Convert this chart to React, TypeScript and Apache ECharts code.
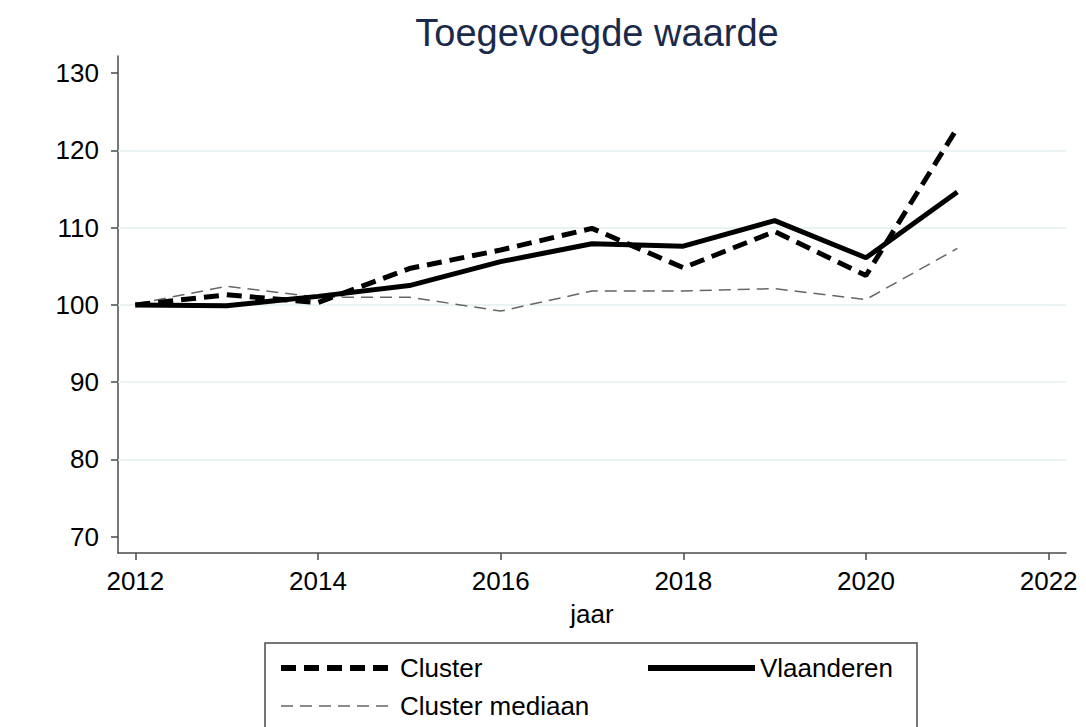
import React, { useEffect, useRef } from "react";
import * as echarts from "echarts";

const years = [2012, 2013, 2014, 2015, 2016, 2017, 2018, 2019, 2020, 2021];
const cluster = [100, 101.3, 100.3, 104.7, 107.1, 109.9, 104.8, 109.5, 103.8, 122.9];
const vlaanderen = [100, 99.9, 101.1, 102.5, 105.6, 107.9, 107.6, 110.9, 106.1, 114.6];
const mediaan = [100.1, 102.4, 101.0, 101.0, 99.2, 101.8, 101.8, 102.1, 100.7, 107.3];
const xTicks = [2012, 2014, 2016, 2018, 2020, 2022];
const yTicks = [70, 80, 90, 100, 110, 120, 130];
const gridValues = [80, 90, 100, 110, 120];

const FONT = 'Arial, "Liberation Sans", Helvetica, sans-serif';

export default function App() {
  const ref = useRef<HTMLDivElement>(null);
  useEffect(() => {
    if (!ref.current) return;
    const chart = echarts.init(ref.current, null, { renderer: "svg" });
    const pair = (arr: number[]) => years.map((y, i) => [y, arr[i]]);
    const legendText = { fontFamily: FONT, fontSize: 26, color: "#000" };
    chart.setOption({
      animation: false,
      backgroundColor: "#ffffff",
      textStyle: { fontFamily: FONT },
      title: {
        text: "Toegevoegde waarde",
        left: 592,
        textAlign: "center",
        top: 9,
        textStyle: { fontFamily: FONT, fontSize: 38, fontWeight: "normal", color: "#1a2a4a" },
      },
      grid: { left: 118, right: 20, top: 56, bottom: 174 },
      xAxis: {
        type: "value",
        min: 2011.81,
        max: 2022.19,
        name: "jaar",
        nameLocation: "middle",
        nameGap: 48,
        nameTextStyle: { fontFamily: FONT, fontSize: 26, color: "#000" },
        axisLine: { show: true, lineStyle: { color: "#4a4a4a", width: 1.5 } },
        axisTick: { show: true, customValues: xTicks, length: 7, lineStyle: { color: "#4a4a4a", width: 1.5 } },
        axisLabel: {
          customValues: xTicks,
          formatter: (v: number) => String(Math.round(v)),
          fontFamily: FONT,
          fontSize: 26,
          color: "#000",
          margin: 15,
        },
        splitLine: { show: false },
      },
      yAxis: {
        type: "value",
        min: 67.9,
        max: 132.2,
        axisLine: { show: true, lineStyle: { color: "#4a4a4a", width: 1.5 } },
        axisTick: { show: true, customValues: yTicks, length: 7, lineStyle: { color: "#4a4a4a", width: 1.5 } },
        axisLabel: {
          customValues: yTicks,
          formatter: (v: number) => String(Math.round(v)),
          fontFamily: FONT,
          fontSize: 26,
          color: "#000",
          margin: 19,
        },
        splitLine: { show: false },
      },
      legend: [
        {
          orient: "vertical",
          left: 273,
          top: 650,
          itemWidth: 114,
          itemHeight: 14,
          itemGap: 12,
          itemStyle: { opacity: 0 },
          data: [
            { name: "Cluster", lineStyle: { color: "#000", width: 6, type: [15, 8] } },
            { name: "Cluster mediaan", lineStyle: { color: "#666", width: 1.5, type: [12, 7] } },
          ],
          textStyle: legendText,
        },
        {
          orient: "vertical",
          left: 640,
          top: 650,
          itemWidth: 107,
          itemHeight: 14,
          itemStyle: { opacity: 0 },
          data: [{ name: "Vlaanderen", lineStyle: { color: "#000", width: 6, type: "solid" } }],
          textStyle: legendText,
        },
      ],
      graphic: [
        {
          type: "rect",
          shape: { x: 265, y: 643, width: 652, height: 100 },
          style: { fill: "none", stroke: "#4a4a4a", lineWidth: 1.5 },
          silent: true,
        },
      ],
      series: [
        {
          name: "Cluster mediaan",
          type: "line",
          data: pair(mediaan),
          symbol: "none",
          lineStyle: { color: "#666666", width: 1.5, type: [12, 7] },
          itemStyle: { color: "#666666" },
          z: 2,
          markLine: {
            silent: true,
            symbol: "none",
            label: { show: false },
            lineStyle: { color: "#e3eef1", width: 1.5, type: "solid" },
            data: gridValues.map((v) => ({ yAxis: v })),
            z: 1,
          },
        },
        {
          name: "Vlaanderen",
          type: "line",
          data: pair(vlaanderen),
          symbol: "none",
          lineStyle: { color: "#000000", width: 5, type: "solid" },
          itemStyle: { color: "#000000" },
          z: 3,
        },
        {
          name: "Cluster",
          type: "line",
          data: pair(cluster),
          symbol: "none",
          lineStyle: { color: "#000000", width: 5, type: [15, 8] },
          itemStyle: { color: "#000000" },
          z: 4,
        },
      ],
    });
    return () => chart.dispose();
  }, []);
  return (
    <div
      ref={ref}
      style={{ position: "fixed", left: 0, top: 0, width: 1086, height: 727 }}
    />
  );
}
